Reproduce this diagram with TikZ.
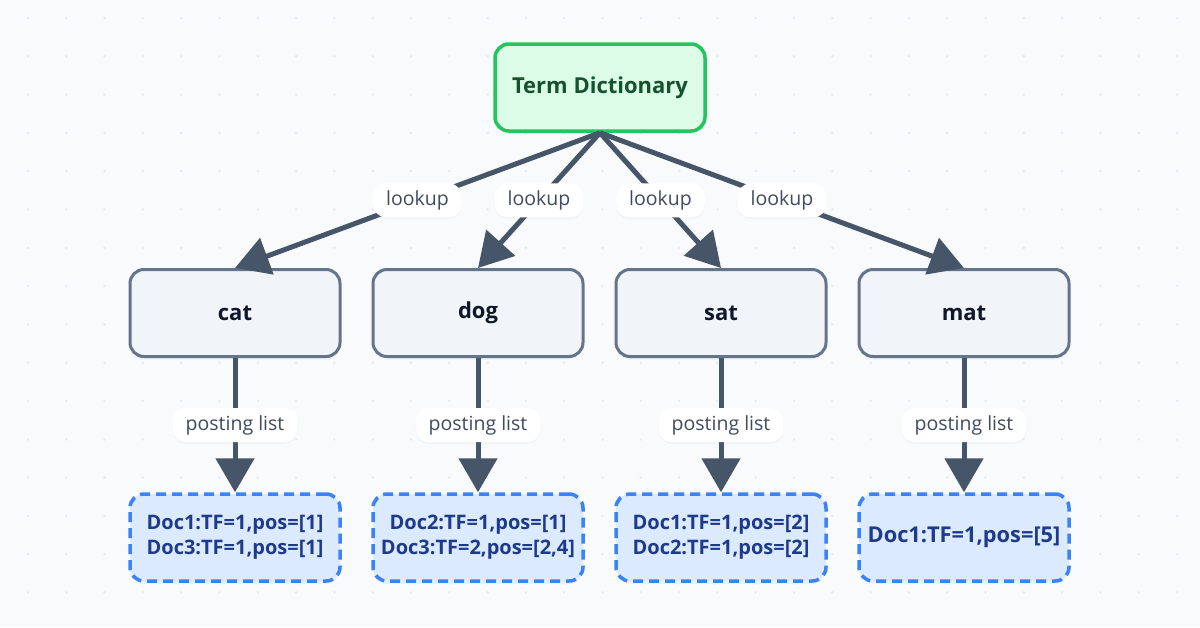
\documentclass[tikz,border=0pt]{standalone}
\usepackage{fontspec}
\setmainfont{Open Sans}
\usetikzlibrary{arrows.meta,shadows}
\definecolor{bg}{HTML}{F8FAFC}
\definecolor{dotc}{HTML}{E8ECF1}
\definecolor{greenb}{HTML}{22C55E}
\definecolor{greenf}{HTML}{DCFCE7}
\definecolor{greent}{HTML}{14532D}
\definecolor{slateb}{HTML}{64748B}
\definecolor{slatef}{HTML}{F1F5F9}
\definecolor{slatet}{HTML}{0F172A}
\definecolor{arrc}{HTML}{475569}
\definecolor{blueb}{HTML}{3B82F6}
\definecolor{bluef}{HTML}{DBEAFE}
\definecolor{bluet}{HTML}{1E3A8A}
\definecolor{pillt}{HTML}{3F4B5E}
\tikzset{
  basebox/.style={rounded corners=14pt, minimum width=210pt, minimum height=87pt, inner sep=0pt, align=center,
    drop shadow={opacity=0.07, shadow xshift=0pt, shadow yshift=-3pt}},
  dict/.style={basebox, draw=greenb, line width=3.5pt, fill=greenf, text=greent, font=\bfseries\fontsize{22}{26}\selectfont},
  word/.style={basebox, draw=slateb, line width=3pt, fill=slatef, text=slatet, font=\bfseries\fontsize{22}{26}\selectfont},
  docbox/.style={basebox, draw=blueb, line width=3.5pt, dash pattern=on 10pt off 6pt, fill=bluef, text=bluet, font=\bfseries\fontsize{20}{25}\selectfont},
  arr/.style={draw=arrc, line width=5pt, -{Triangle[width=38pt,length=34pt]}},
  pill/.style={fill=white, text=pillt, rounded corners=13pt, minimum height=34pt, inner xsep=13pt, inner ysep=0pt,
    font=\fontsize{19.5}{22}\selectfont, drop shadow={opacity=0.05, shadow xshift=0pt, shadow yshift=-2pt}}
}
\begin{document}
\begin{tikzpicture}[x=1pt,y=-1pt]
\fill[bg] (0,0) rectangle (1200,627);
\useasboundingbox (0,0) rectangle (1200,627);
\foreach \i in {0,...,30} {\foreach \j in {0,...,15} {\fill[dotc] ({28+38.3*\i},{18+38.3*\j}) circle[radius=1.5pt];}}

\node[dict] (td) at (600,87.5) {Term Dictionary};
\node[word] (cat) at (235,313) {cat};
\node[word] (dog) at (478,313) {dog};
\node[word] (sat) at (721,313) {sat};
\node[word] (mat) at (964,313) {mat};

\node[docbox] (dcat) at (235,537.5) {Doc1:TF=1,pos=[1]\\Doc3:TF=1,pos=[1]};
\node[docbox] (ddog) at (478,537.5) {Doc2:TF=1,pos=[1]\\Doc3:TF=2,pos=[2,4]};
\node[docbox] (dsat) at (721,537.5) {Doc1:TF=1,pos=[2]\\Doc2:TF=1,pos=[2]};
\node[docbox, font=\bfseries\fontsize{21.8}{25}\selectfont] (dmat) at (964,537.5) {Doc1:TF=1,pos=[5]};

\draw[arr] (td.south) -- (cat.north) node[midway,pill] {lookup};
\draw[arr] (td.south) -- (dog.north) node[midway,pill] {lookup};
\draw[arr] (td.south) -- (sat.north) node[midway,pill] {lookup};
\draw[arr] (td.south) -- (mat.north) node[midway,pill] {lookup};

\draw[arr] (cat.south) -- (dcat.north) node[midway,pill] {posting list};
\draw[arr] (dog.south) -- (ddog.north) node[midway,pill] {posting list};
\draw[arr] (sat.south) -- (dsat.north) node[midway,pill] {posting list};
\draw[arr] (mat.south) -- (dmat.north) node[midway,pill] {posting list};
\end{tikzpicture}
\end{document}
